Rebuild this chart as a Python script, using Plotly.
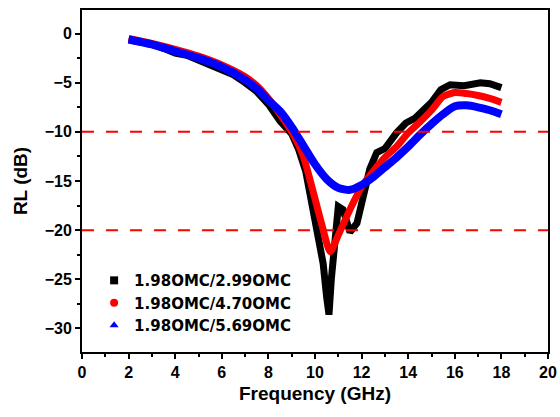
import plotly.graph_objects as go

# ---- data ----
freq_a = [2, 2.5, 3, 3.5, 4, 4.5, 5, 5.5, 6, 6.5, 7, 7.5, 8, 8.5, 9, 9.3, 9.6, 9.9, 10.1,
          10.35, 10.5, 10.6, 10.7, 10.85, 11.0, 11.2, 11.5, 11.8, 12.05, 12.35, 12.65,
          13.0, 13.5, 13.9, 14.3, 14.7, 15.0, 15.4, 15.8, 16.4, 16.8, 17.1, 17.5, 17.8, 18.0]
rl_a = [-0.6, -0.8, -1.1, -1.5, -2.0, -2.2, -2.7, -3.1, -3.7, -4.2, -5.0, -5.9, -7.2, -8.9,
        -10.2, -11.8, -14.0, -17.5, -19.6, -23.4, -26.8, -28.6, -25.0, -21.3, -17.6, -17.9,
        -20.2, -19.3, -16.6, -13.8, -12.1, -11.7, -10.1, -9.1, -8.6, -7.7, -7.0, -5.7, -5.2,
        -5.3, -5.1, -5.0, -5.1, -5.3, -5.5]

freq_b = [2, 3, 4, 5, 6, 7, 7.5, 8, 8.5, 9, 9.5, 10, 10.3, 10.65, 11, 11.5, 12, 12.5, 13,
          13.5, 14, 14.5, 15, 15.5, 16, 16.5, 17, 17.5, 18]
rl_b = [-0.5, -1.0, -1.6, -2.3, -3.2, -4.4, -5.3, -6.6, -8.2, -10.0, -12.5, -16.8, -19.5,
        -22.2, -20.5, -17.9, -15.6, -14.0, -12.6, -11.5, -10.1, -9.0, -7.8, -6.4, -6.0,
        -6.1, -6.3, -6.6, -7.0]

freq_c = [2, 3, 4, 5, 6, 7, 7.5, 8, 8.5, 9, 9.5, 10, 10.5, 11, 11.5, 12, 12.5, 13, 13.5,
          14, 14.5, 15, 15.5, 16, 16.5, 17, 17.5, 18]
rl_c = [-0.6, -1.1, -1.8, -2.5, -3.4, -4.7, -5.6, -6.8, -7.9, -9.5, -11.4, -13.3, -14.8,
        -15.7, -15.9, -15.4, -14.6, -13.6, -12.6, -11.5, -10.3, -9.2, -8.2, -7.4, -7.3,
        -7.5, -7.8, -8.2]

series_names = ["1.98OMC/2.99OMC", "1.98OMC/4.70OMC", "1.98OMC/5.69OMC"]
ref_levels = [-10, -20]

x_ticks = list(range(0, 21, 2))
y_ticks = [0, -5, -10, -15, -20, -25, -30]

# ---- figure ----
colors = ["#000000", "#ff0000", "#0000ff"]
symbols = ["square", "circle", "triangle-up"]
widths = [7, 7, 8]
shapes = ["linear", "spline", "spline"]
xs = [freq_a, freq_b, freq_c]
ys = [rl_a, rl_b, rl_c]

FONT = "Liberation Sans, Arial, sans-serif"
LFONT = "DejaVu Sans, sans-serif"
fig = go.Figure()
for i in range(3):
    fig.add_trace(go.Scatter(x=xs[i], y=ys[i], mode="lines", showlegend=False,
                             line=dict(color=colors[i], width=widths[i], shape=shapes[i],
                                       smoothing=0.6),
                             hoverinfo="skip"))
for i in range(3):
    fig.add_trace(go.Scatter(x=[None], y=[None], mode="markers", name=series_names[i],
                             marker=dict(color=colors[i], symbol=symbols[i], size=8)))

for lv in ref_levels:
    fig.add_shape(type="line", xref="paper", x0=0, x1=1, yref="y", y0=lv, y1=lv,
                  line=dict(color="#ff0000", width=2, dash="12px,12px"), layer="above")

axis_common = dict(showline=True, linecolor="black", linewidth=2, mirror=True,
                   ticks="outside", ticklen=5, tickwidth=1.5, tickcolor="black",
                   showgrid=False, zeroline=False, automargin=False,
                   tickfont=dict(family=FONT, size=16, color="black", weight="bold"))

fig.update_xaxes(range=[0, 20], tickvals=x_ticks,
                 minor=dict(ticks="outside", ticklen=3, tickwidth=1.5, tickcolor="black", dtick=1),
                 title=dict(text="Frequency (GHz)", standoff=6,
                            font=dict(family=FONT, size=19, color="black", weight="bold")),
                 **axis_common)
fig.update_yaxes(range=[-32.4, 2.4], tickvals=y_ticks,
                 minor=dict(ticks="outside", ticklen=3, tickwidth=1.5, tickcolor="black",
                            tickvals=[-2.5 - 5 * k for k in range(-1, 7)]),
                 title=dict(text="RL (dB)", standoff=12,
                            font=dict(family=FONT, size=19, color="black", weight="bold")),
                 **axis_common)

fig.update_layout(width=560, height=417, plot_bgcolor="white", paper_bgcolor="white",
                  margin=dict(l=82, r=12, t=10, b=65),
                  legend=dict(x=0.026, y=0.257, xanchor="left", yanchor="top",
                              bgcolor="rgba(0,0,0,0)", tracegroupgap=0,
                              font=dict(family=LFONT, size=15, color="black", weight="bold")))

# remove the page's default body margin so the figure fills the window exactly
fig.write_html("out.html", config={"displayModeBar": False},
               post_script="document.body.style.margin='0';document.body.style.overflow='hidden';")
